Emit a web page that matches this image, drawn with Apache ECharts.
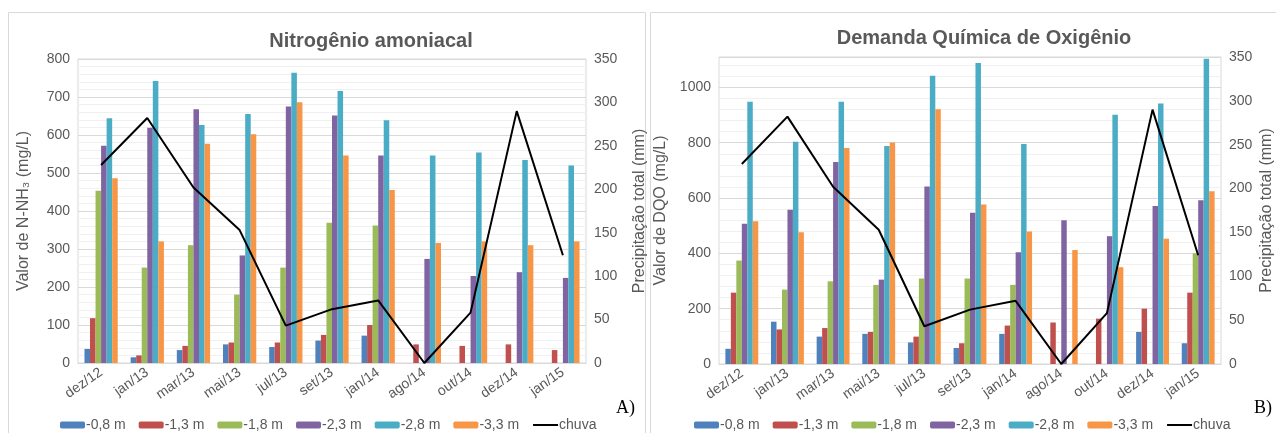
<!DOCTYPE html>
<html>
<head>
<meta charset="utf-8">
<script src="https://cdn.jsdelivr.net/npm/echarts@6/dist/echarts.min.js"></script>
<style>
  html, body { margin: 0; padding: 0; background: #fff; }
  #chart { width: 1276px; height: 433px; }
</style>
</head>
<body>
<div id="chart"></div>
<script>
// categorias (datas de coleta)
const months = ['dez/12', 'jan/13', 'mar/13', 'mai/13', 'jul/13', 'set/13', 'jan/14', 'ago/14', 'out/14', 'dez/14', 'jan/15']
const depths = ['-0,8 m', '-1,3 m', '-1,8 m', '-2,3 m', '-2,8 m', '-3,3 m']
const colors = ['#4F81BD', '#C0504D', '#9BBB59', '#8064A2', '#4BACC6', '#F79646']

// precipitação total (mm)
const chuva = [228, 282, 202, 153, 43, 62, 72, 0, 58, 290, 124]

// Nitrogênio amoniacal (mg/L)
const nh3_08 = [37, 15, 34, 49, 42, 59, 72, 0, 0, 0, 0]
const nh3_13 = [118, 20, 45, 54, 54, 74, 100, 49, 45, 49, 34]
const nh3_18 = [453, 251, 310, 180, 251, 369, 362, 0, 0, 0, 0]
const nh3_23 = [572, 619, 668, 283, 675, 651, 546, 274, 229, 239, 224]
const nh3_28 = [644, 742, 626, 655, 764, 716, 639, 546, 554, 534, 520]
const nh3_33 = [486, 320, 577, 602, 686, 546, 455, 316, 320, 310, 320]

// DQO (mg/L)
const dqo_08 = [55, 153, 99, 109, 78, 58, 109, 0, 0, 116, 75]
const dqo_13 = [258, 125, 130, 116, 99, 75, 139, 150, 164, 200, 258]
const dqo_18 = [374, 269, 299, 286, 309, 309, 286, 0, 0, 0, 400]
const dqo_23 = [507, 558, 730, 305, 642, 547, 404, 520, 462, 571, 592]
const dqo_28 = [948, 804, 948, 788, 1042, 1088, 795, 0, 901, 942, 1104]
const dqo_33 = [516, 476, 781, 801, 921, 577, 479, 412, 350, 453, 625]

const nh3 = [nh3_08, nh3_13, nh3_18, nh3_23, nh3_28, nh3_33]
const dqo = [dqo_08, dqo_13, dqo_18, dqo_23, dqo_28, dqo_33]

const txt = '#595959'
const font = 'Liberation Sans'

function xAxis(gi) {
  return {
    type: 'category', gridIndex: gi, data: months,
    axisLine: { lineStyle: { color: '#d9d9d9' } },
    axisTick: { show: false },
    axisLabel: { rotate: 35, interval: 0, color: txt, fontSize: 14, fontFamily: font, margin: 8 }
  }
}

function yLeft(gi, max, step, name, gap) {
  return {
    type: 'value', gridIndex: gi, min: 0, max: max, interval: step,
    name: name, nameLocation: 'middle', nameGap: gap,
    nameTextStyle: { color: txt, fontSize: 16, fontFamily: font },
    axisLine: { show: false }, axisTick: { show: false },
    axisLabel: { color: txt, fontSize: 14, fontFamily: font, showMaxLabel: max % step === 0, formatter: v => String(v) },
    splitLine: { lineStyle: { color: '#d9d9d9' } },
    minorTick: { show: false, splitNumber: 5 },
    minorSplitLine: { show: true, lineStyle: { color: '#f0f0f0' } }
  }
}

function yRight(gi, gap) {
  return {
    type: 'value', gridIndex: gi, position: 'right', min: 0, max: 350, interval: 50,
    name: 'Precipitação total (mm)', nameLocation: 'middle', nameGap: gap, nameRotate: 90,
    nameTextStyle: { color: txt, fontSize: 16, fontFamily: font },
    axisLine: { show: false }, axisTick: { show: false },
    axisLabel: { color: txt, fontSize: 14, fontFamily: font },
    splitLine: { show: false }
  }
}

function seriesFor(gi, sets) {
  const out = sets.map((vals, i) => ({
    name: depths[i], type: 'bar', xAxisIndex: gi, yAxisIndex: gi * 2,
    data: vals, barGap: '0%', barCategoryGap: '28%',
    itemStyle: { color: colors[i] }
  }))
  out.push({
    name: 'chuva', type: 'line', xAxisIndex: gi, yAxisIndex: gi * 2 + 1,
    data: chuva, symbol: 'none', lineStyle: { color: '#000', width: 2 },
    itemStyle: { color: '#000' }
  })
  return out
}

function legend(left) {
  return {
    left: left, top: 418, padding: 0, itemWidth: 25, itemHeight: 7, itemGap: 13,
    data: depths.concat([{ name: 'chuva', itemStyle: { opacity: 0 } }]),
    textStyle: { color: txt, fontSize: 14, fontFamily: font, padding: [0, 0, 0, -4] }
  }
}

const myChart = echarts.init(document.getElementById('chart'))
const option = {
  animation: false,
  title: [
    { text: 'Nitrogênio amoniacal', left: 366, top: 26, textAlign: 'center',
      textStyle: { color: txt, fontSize: 20, fontWeight: 'bold', fontFamily: font } },
    { text: 'Demanda Química de Oxigênio', left: 979, top: 23, textAlign: 'center',
      textStyle: { color: txt, fontSize: 20, fontWeight: 'bold', fontFamily: font } }
  ],
  grid: [
    { left: 78, top: 59, width: 508, height: 304, show: true, borderColor: '#d9d9d9', backgroundColor: 'transparent' },
    { left: 719, top: 57, width: 511, height: 307, show: true, borderColor: '#d9d9d9', backgroundColor: 'transparent' }
  ],
  legend: [legend(60), legend(694)],
  xAxis: [xAxis(0), xAxis(1)],
  yAxis: [
    yLeft(0, 800, 100, 'Valor de N-NH₃ (mg/L)', 46),
    yRight(0, 46),
    yLeft(1, 1110, 200, 'Valor de DQO (mg/L)', 50),
    yRight(1, 38)
  ],
  series: seriesFor(0, nh3).concat(seriesFor(1, dqo)),
  graphic: [
    { type: 'rect', shape: { x: 8.5, y: 12.5, width: 637, height: 430 }, style: { fill: 'none', stroke: '#d9d9d9' }, silent: true },
    { type: 'rect', shape: { x: 650.5, y: 12.5, width: 640, height: 430 }, style: { fill: 'none', stroke: '#d9d9d9' }, silent: true },
    { type: 'text', left: 616, top: 399, style: { text: 'A)', font: '18px "Liberation Serif"', fill: '#000' } },
    { type: 'text', left: 1254, top: 399, style: { text: 'B)', font: '18px "Liberation Serif"', fill: '#000' } }
  ]
}

option && myChart.setOption(option)
</script>
</body>
</html>
